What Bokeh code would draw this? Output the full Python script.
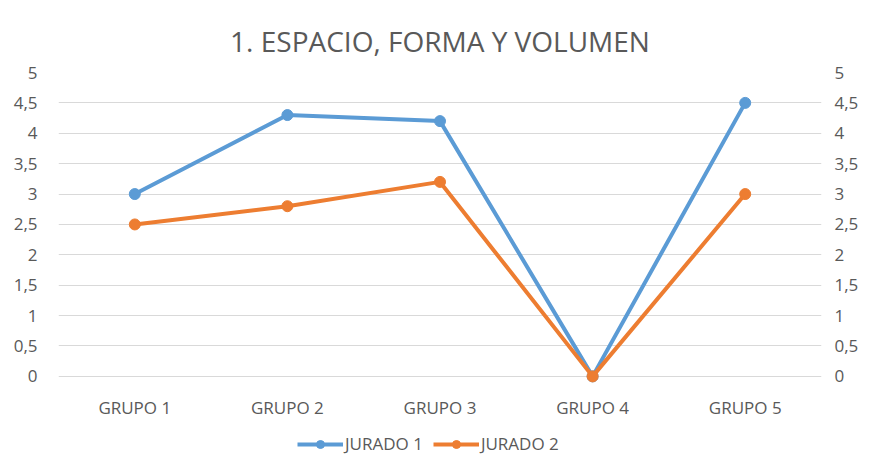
from bokeh.plotting import figure
from bokeh.layouts import column
from bokeh.models import (FixedTicker, CustomJSTickFormatter, LinearAxis, Legend, LegendItem, Range1d)
from bokeh.embed import file_html
from bokeh.resources import INLINE

grupos = ["GRUPO 1", "GRUPO 2", "GRUPO 3", "GRUPO 4", "GRUPO 5"]
jurado1 = [3.0, 4.3, 4.2, 0.0, 4.5]
jurado2 = [2.5, 2.8, 3.2, 0.0, 3.0]
y_ticks = [0, 0.5, 1, 1.5, 2, 2.5, 3, 3.5, 4, 4.5, 5]

FONT = "Open Sans"
GREY = "#595959"
FS = "17px"
c1, c2 = "#5B9BD5", "#ED7D31"

p = figure(x_range=grupos, y_range=Range1d(-0.15, 5), frame_width=763, frame_height=313,
           output_backend="svg", toolbar_location=None,
           min_border_left=58, min_border_right=41, min_border_top=72, min_border_bottom=30)
p.title.text = "1. ESPACIO, FORMA Y VOLUMEN"
p.title.align = "center"
p.title.text_font = FONT
p.title.text_font_size = "28px"
p.title.text_font_style = "normal"
p.title.text_color = GREY
p.title.standoff = 26
p.outline_line_color = None

fmt = CustomJSTickFormatter(code="return tick.toString().replace('.', ',');")
p.yaxis.ticker = FixedTicker(ticks=y_ticks)
p.yaxis.formatter = fmt
right = LinearAxis(ticker=FixedTicker(ticks=y_ticks), formatter=fmt)
p.add_layout(right, "right")

for ax in p.yaxis + p.xaxis:
    ax.axis_line_color = None
    ax.major_tick_line_color = None
    ax.minor_tick_line_color = None
    ax.major_label_text_font = FONT
    ax.major_label_text_font_size = FS
    ax.major_label_text_color = GREY
p.xaxis.major_label_standoff = 4
p.yaxis[0].major_label_standoff = 15
right.major_label_standoff = 7

p.xgrid.grid_line_color = None
p.ygrid.grid_line_color = "#D9D9D9"
p.ygrid.grid_line_width = 1
p.ygrid.ticker = FixedTicker(ticks=y_ticks)

p.line(grupos, jurado1, line_color=c1, line_width=4)
p.scatter(grupos, jurado1, size=11, color=c1)
p.line(grupos, jurado2, line_color=c2, line_width=4)
p.scatter(grupos, jurado2, size=11, color=c2)

# Legend strip: same series drawn in a figure whose y range hides them,
# so only the legend entries show.
leg = figure(x_range=grupos, y_range=Range1d(100, 101), width=854, height=40,
             output_backend="svg", toolbar_location=None,
             min_border_left=0, min_border_right=0, min_border_top=0, min_border_bottom=0)
leg.axis.visible = False
leg.grid.grid_line_color = None
leg.outline_line_color = None
ll1 = leg.line(grupos, jurado1, line_color=c1, line_width=4)
ls1 = leg.scatter(grupos, jurado1, size=11, color=c1)
ll2 = leg.line(grupos, jurado2, line_color=c2, line_width=4)
ls2 = leg.scatter(grupos, jurado2, size=11, color=c2)

legend = Legend(items=[LegendItem(label="JURADO 1", renderers=[ll1, ls1]),
                       LegendItem(label="JURADO 2", renderers=[ll2, ls2])],
                orientation="horizontal", location=(239, 6),
                label_text_font=FONT, label_text_font_size=FS,
                label_text_color=GREY, border_line_color=None,
                background_fill_alpha=0, glyph_width=46, spacing=10,
                margin=0, padding=2, label_standoff=2)
leg.add_layout(legend)

layout = column(p, leg, spacing=0)
open("out.html", "w").write(file_html(layout, INLINE))
